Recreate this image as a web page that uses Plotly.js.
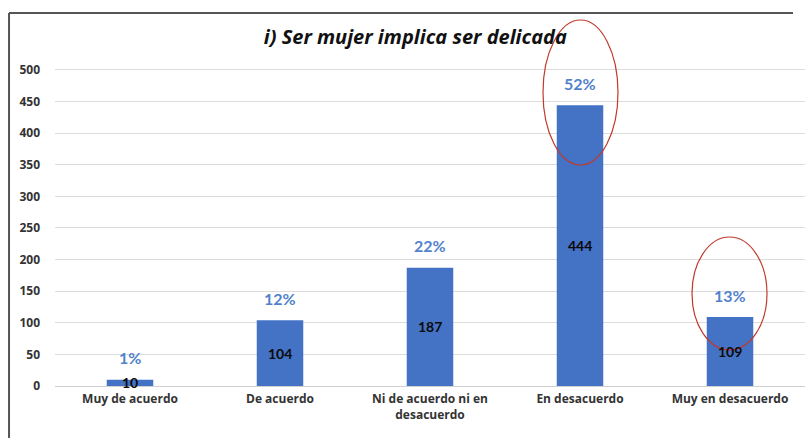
<!DOCTYPE html>
<html>
<head>
<meta charset="utf-8">
<script src="https://cdn.plot.ly/plotly-3.0.1.min.js"></script>
<style>html,body{margin:0;padding:0;background:#fff;}#chart{width:808px;height:438px;}</style>
</head>
<body>
<div id="chart"></div>
<script>
const categories = ["Muy de acuerdo", "De acuerdo", "Ni de acuerdo ni en<br>desacuerdo", "En desacuerdo", "Muy en desacuerdo"];
const counts = [10, 104, 187, 444, 109];
const percents = ["1%", "12%", "22%", "52%", "13%"];
const yTicks = [0, 50, 100, 150, 200, 250, 300, 350, 400, 450, 500];

const FONT = "Lato, 'Open Sans', sans-serif";
const FONT2 = "'Open Sans', Lato, sans-serif";
const barColor = "#4472C4";
const pctColor = "#5282CC";

const annotations = [];
categories.forEach((c, i) => {
  annotations.push({x: c, y: counts[i] / 2, xref: "x", yref: "y", text: "<b>" + counts[i] + "</b>",
    showarrow: false, font: {family: FONT, size: 14, color: "#0a0a0a"}});
  annotations.push({x: c, y: counts[i], xref: "x", yref: "y", text: "<b>" + percents[i] + "</b>",
    showarrow: false, yshift: 22, font: {family: FONT, size: 16, color: pctColor}});
});

const trace = {
  type: "bar",
  x: categories,
  y: counts,
  marker: {color: barColor},
  hoverinfo: "none"
};

const layout = {
  width: 808, height: 438,
  margin: {l: 55, r: 3, t: 57, b: 52},
  paper_bgcolor: "#fff", plot_bgcolor: "rgba(0,0,0,0)",
  bargap: 0.69,
  showlegend: false,
  title: {text: "<b><i>i) Ser mujer implica ser delicada</i></b>", x: 0.514, xanchor: "center", y: 0.915, yanchor: "middle",
    font: {family: FONT2, size: 20, color: "#111"}},
  xaxis: {type: "category", showgrid: false, zeroline: false, showline: false, ticks: "",
    tickvals: categories, ticktext: categories.map(c => "<b>" + c + "</b>"),
    tickfont: {family: FONT2, size: 12, color: "#333"}, ticklabelstandoff: 4},
  yaxis: {range: [0, 520.5], tickvals: yTicks, ticktext: yTicks.map(v => "<b>" + v + "</b>"),
    showgrid: true, gridcolor: "#dcdcdc", gridwidth: 1, zeroline: true, zerolinecolor: "#d0d0d0",
    showline: false, ticks: "", tickfont: {family: FONT2, size: 12, color: "#333"}, ticklabelstandoff: 14},
  annotations: annotations,
  shapes: [
    {type: "line", xref: "paper", yref: "paper", x0: -0.0613, x1: 0.984, y0: 1.134, y1: 1.134,
      line: {color: "#555", width: 2}},
    {type: "line", xref: "paper", yref: "paper", x0: -0.0613, x1: -0.0613, y0: 1.134, y1: -0.2,
      line: {color: "#555", width: 2}},
    {type: "circle", xref: "paper", yref: "paper", x0: (543 - 55) / 750, x1: (618 - 55) / 750,
      y0: (386 - 165) / 329, y1: (386 - 20) / 329,
      line: {color: "#C0392B", width: 1.2}},
    {type: "circle", xref: "paper", yref: "paper", x0: (692 - 55) / 750, x1: (767 - 55) / 750,
      y0: (386 - 350) / 329, y1: (386 - 237) / 329,
      line: {color: "#C0392B", width: 1.2}}
  ]
};

Plotly.newPlot("chart", [trace], layout, {displayModeBar: false, staticPlot: true});
</script>
</body>
</html>
